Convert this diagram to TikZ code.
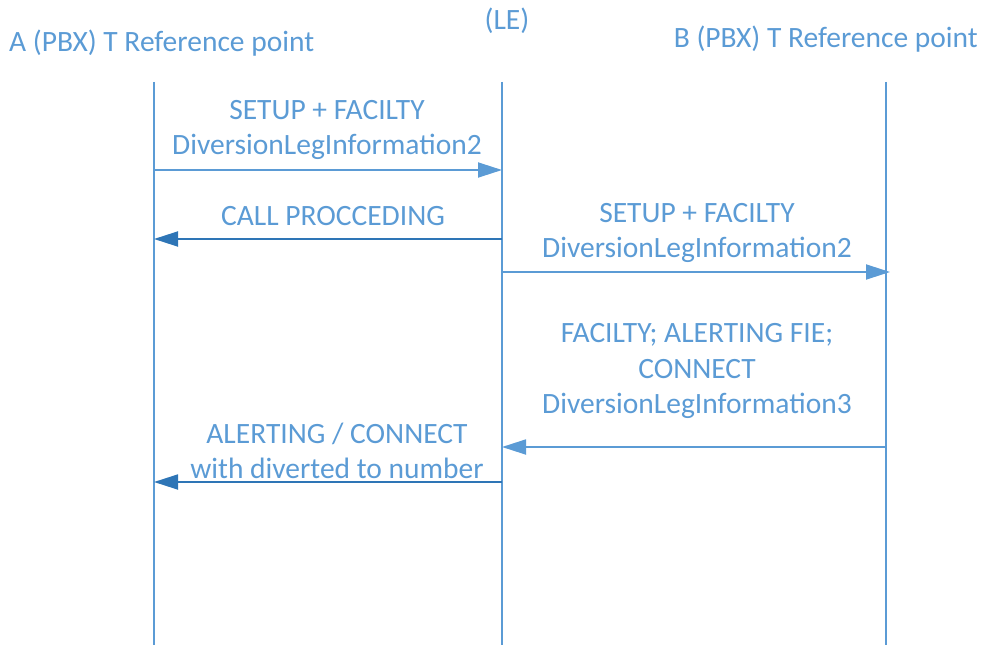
\documentclass[tikz,border=0pt]{standalone}
\usepackage{fontspec}
\setmainfont{Carlito}
\usetikzlibrary{arrows.meta}
\definecolor{lblue}{HTML}{5B9BD5}
\definecolor{dblue}{HTML}{2E75B6}
\begin{document}
\begin{tikzpicture}[x=1bp,y=-1bp,
  lifeline/.style={draw=lblue,line width=1.6bp},
  msg/.style={draw=lblue,line width=1.8bp,-{Triangle[length=24bp,width=15bp]},color=lblue},
  dmsg/.style={draw=dblue,line width=1.8bp,-{Triangle[length=24bp,width=15bp]},color=dblue},
  lbl/.style={text=lblue,font=\fontsize{29.5bp}{35.5bp}\selectfont,align=center,inner sep=0pt},
]
\useasboundingbox (0,0) rectangle (981,645);
% headers
\node[lbl,anchor=west] (hA) at (9,43) {A (PBX) T Reference point};
\node[lbl] (hLE) at (507,21) {(LE)};
\node[lbl,anchor=east] (hB) at (978,39) {B (PBX) T Reference point};
% lifelines
\coordinate (At) at (154,82); \coordinate (Ab) at (154,645);
\coordinate (Lt) at (502,82); \coordinate (Lb) at (502,645);
\coordinate (Bt) at (886,82); \coordinate (Bb) at (886,645);
\draw[lifeline] (At) -- (Ab);
\draw[lifeline] (Lt) -- (Lb);
\draw[lifeline] (Bt) -- (Bb);
% message endpoints
\coordinate (a1) at (154,170); \coordinate (l1) at (502,170);
\coordinate (l2) at (502,239); \coordinate (a2) at (154,239);
\coordinate (l3) at (502,272); \coordinate (b3) at (890,272);
\coordinate (b4) at (886,447); \coordinate (l4) at (502,447);
\coordinate (l5) at (502,482); \coordinate (a5) at (154,482);
\draw[msg] (a1) -- (l1);
\draw[dmsg] (l2) -- (a2);
\draw[msg] (l3) -- (b3);
\draw[msg] (b4) -- (l4);
\draw[dmsg] (l5) -- (a5);
% labels
\node[lbl] (t1) at (327,130) {SETUP + FACILTY\\DiversionLegInformation2};
\node[lbl] (t2) at (333,216) {CALL PROCCEDING};
\node[lbl] (t3) at (697,233) {SETUP + FACILTY\\DiversionLegInformation2};
\node[lbl] (t4) at (697,371) {FACILTY; ALERTING FIE;\\CONNECT\\DiversionLegInformation3};
\node[lbl] (t5) at (337,451) {ALERTING / CONNECT\\with diverted to number};
\end{tikzpicture}
\end{document}
